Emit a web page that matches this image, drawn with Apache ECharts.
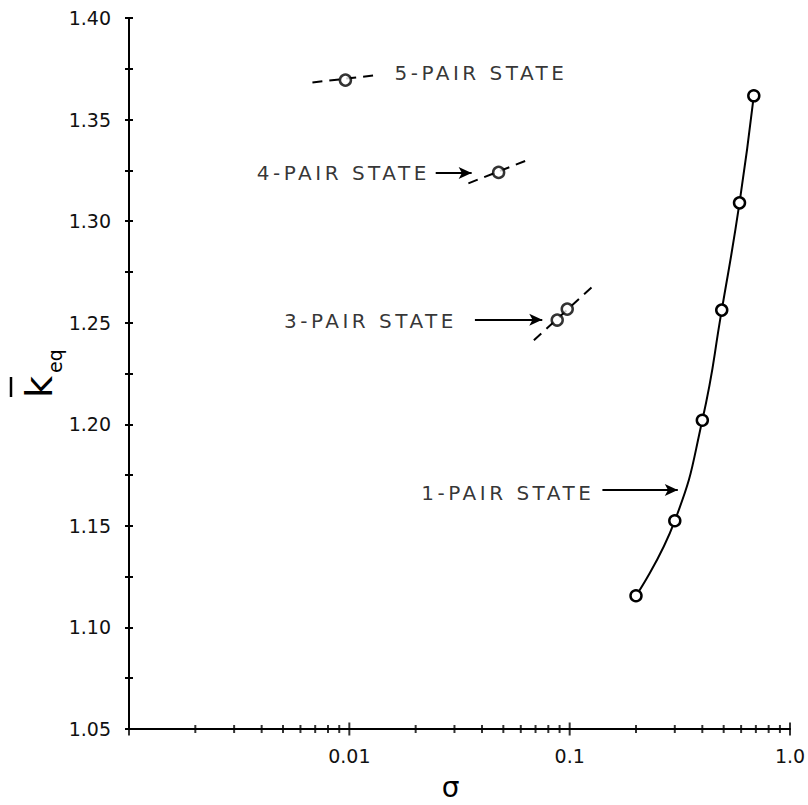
<!DOCTYPE html>
<html>
<head>
<meta charset="utf-8">
<script src="https://cdn.jsdelivr.net/npm/echarts@6/dist/echarts.min.js"></script>
<style>
html,body{margin:0;padding:0;background:#fff;}
#chart{width:808px;height:805px;}
</style>
</head>
<body>
<div id="chart"></div>
<script>
// ---- data ----
const onePairSigma = [0.2, 0.3, 0.4, 0.49, 0.59, 0.685];
const onePairK     = [1.1156, 1.1525, 1.202, 1.2562, 1.309, 1.3617];

const threePairSigma = [0.0878, 0.0975];
const threePairK     = [1.2513, 1.2567];
const threePairDashSigma = [0.0688, 0.1277];
const threePairDashK     = [1.2414, 1.268];

const fourPairSigma = [0.0476];
const fourPairK     = [1.324];
const fourPairDashSigma = [0.0347, 0.0641];
const fourPairDashK     = [1.3186, 1.33];

const fivePairSigma = [0.0096];
const fivePairK     = [1.3694];
const fivePairDashSigma = [0.0068, 0.01346];
const fivePairDashK     = [1.3683, 1.3719];

// annotation texts (anchor = left edge of text, vertical centre)
const noteTexts = ['5-PAIR STATE', '4-PAIR STATE', '3-PAIR STATE', '1-PAIR STATE'];
const noteSigma = [0.01604, 0.003805, 0.005053, 0.02123];
const noteK     = [1.3730, 1.3236, 1.2508, 1.1663];
// arrows (start sigma, end sigma, k)
const arrowFromSigma = [0.02466, 0.03715, 0.1408];
const arrowToSigma   = [0.0359, 0.0751, 0.3095];
const arrowK         = [1.3237, 1.2515, 1.1676];

// axis ticks
const xMajorTicks = [0.001, 0.01, 0.1, 1.0];
const xMinorTicks = [0.002,0.003,0.004,0.005,0.006,0.007,0.008,0.009,
                     0.02,0.03,0.04,0.05,0.06,0.07,0.08,0.09,
                     0.2,0.3,0.4,0.5,0.6,0.7,0.8,0.9];
const xTickLabels = ['', '0.01', '0.1', '1.0'];
const yTickLabels = ['1.05','1.10','1.15','1.20','1.25','1.30','1.35','1.40'];

// ---- chart ----
const zip = (a, b) => a.map((v, i) => [v, b[i]]);
const chart = echarts.init(document.getElementById('chart'), null, {renderer: 'svg'});
const FONT = '"DejaVu Sans", sans-serif';

const yBase = {
  type: 'value', min: 1.05, max: 1.40, interval: 0.05, position: 'left',
  splitLine: {show: false}
};
const circleStyle = {color: '#fff', borderColor: '#000', borderWidth: 2.5};

const option = {
  backgroundColor: '#fff',
  animation: false,
  grid: {left: 129, right: 18, top: 18, bottom: 76, containLabel: false, outerBoundsMode: 'none'},
  xAxis: {
    type: 'log', logBase: 10, min: 0.001, max: 1,
    name: 'σ', nameLocation: 'middle', nameGap: 44,
    nameTextStyle: {fontSize: 28, fontFamily: FONT, color: '#000', padding: [0, 18, 0, 0]},
    axisLine: {lineStyle: {color: '#000', width: 2}},
    axisTick: {show: false},
    minorTick: {show: false},
    splitLine: {show: false},
    axisLabel: {
      margin: 17, fontSize: 19, fontFamily: FONT, color: '#111',
      formatter: function (v) {
        const i = xMajorTicks.findIndex(t => Math.abs(Math.log10(t) - Math.log10(v)) < 1e-6);
        return i >= 0 ? xTickLabels[i] : '';
      }
    }
  },
  yAxis: [
    Object.assign({}, yBase, {
      axisLine: {lineStyle: {color: '#000', width: 2}},
      axisTick: {show: true, inside: false, length: 4, lineStyle: {color: '#000', width: 2}},
      minorTick: {show: true, splitNumber: 2, length: 4, lineStyle: {color: '#000', width: 2}},
      axisLabel: {
        margin: 18, fontSize: 19, fontFamily: FONT, color: '#111',
        formatter: function (v) {
          const i = Math.round((v - 1.05) / 0.05);
          return yTickLabels[i] !== undefined ? yTickLabels[i] : '';
        }
      }
    }),
    Object.assign({}, yBase, {
      axisLine: {show: false},
      axisTick: {show: true, inside: true, length: 4, lineStyle: {color: '#000', width: 2}},
      minorTick: {show: true, splitNumber: 2, length: 4, lineStyle: {color: '#000', width: 2}},
      axisLabel: {show: false}
    })
  ],
  graphic: [
    {
      type: 'group', x: 52, y: 398, rotation: Math.PI / 2,
      children: [
        {type: 'text', x: 0, y: -13, style: {text: 'k', font: '38px "DejaVu Sans"', fill: '#000', textAlign: 'left', textVerticalAlign: 'middle'}},
        {type: 'text', x: 25, y: 3, style: {text: 'eq', font: '19px "DejaVu Sans"', fill: '#000', textAlign: 'left', textVerticalAlign: 'middle'}},
        {type: 'line', shape: {x1: 1, y1: -41, x2: 21, y2: -41}, style: {stroke: '#000', lineWidth: 2.5}}
      ]
    }
  ],
  series: [
    // x-axis ticks (crossing the axis line)
    {
      type: 'scatter', name: 'xMinorTicks', yAxisIndex: 0, silent: true, clip: false, z: 5,
      symbol: 'rect', symbolSize: [2, 8], itemStyle: {color: '#000'},
      data: xMinorTicks.map(v => [v, 1.05])
    },
    {
      type: 'scatter', name: 'xMajorTicks', yAxisIndex: 0, silent: true, clip: false, z: 5,
      symbol: 'rect', symbolSize: [2, 13], itemStyle: {color: '#000'},
      data: xMajorTicks.map(v => [v, 1.05])
    },
    // dashed fits
    ...[[fivePairDashSigma, fivePairDashK], [fourPairDashSigma, fourPairDashK], [threePairDashSigma, threePairDashK]].map(d => ({
      type: 'line', silent: true, showSymbol: false, symbol: 'none',
      lineStyle: {color: '#000', width: 2, type: [10, 7]},
      data: zip(d[0], d[1]), z: 3
    })),
    // 1-pair curve
    {
      type: 'line', name: '1-pair', smooth: 0.5,
      symbol: 'circle', symbolSize: 11, showSymbol: true,
      lineStyle: {color: '#000', width: 2},
      itemStyle: circleStyle,
      data: zip(onePairSigma, onePairK), z: 4
    },
    // isolated points
    ...[[threePairSigma, threePairK], [fourPairSigma, fourPairK], [fivePairSigma, fivePairK]].map(d => ({
      type: 'scatter', symbol: 'circle', symbolSize: 11,
      itemStyle: circleStyle,
      data: zip(d[0], d[1]), z: 6
    })),
    // annotations
    {
      type: 'scatter', name: 'notes', silent: true, symbolSize: 0, clip: false,
      data: noteTexts.map((t, i) => ({name: t, value: [noteSigma[i], noteK[i]]})),
      label: {show: true, position: 'right', distance: 0, formatter: '{b}',
        fontSize: 20, fontFamily: FONT, color: '#000'},
      markLine: {
        silent: true, animation: false,
        symbol: ['none', 'arrow'], symbolSize: [9, 13],
        label: {show: false},
        lineStyle: {color: '#000', width: 2, type: 'solid'},
        data: arrowK.map((k, i) => [{coord: [arrowFromSigma[i], k]}, {coord: [arrowToSigma[i], k]}])
      }
    }
  ]
};

// widen the hand-lettered annotation text like the original
function spaceNotes() {
  document.querySelectorAll('#chart text').forEach(t => {
    if (noteTexts.indexOf(t.textContent.trim()) >= 0) t.setAttribute('letter-spacing', '3.5');
  });
}
chart.on('finished', spaceNotes);
chart.setOption(option);
spaceNotes();
</script>
</body>
</html>
